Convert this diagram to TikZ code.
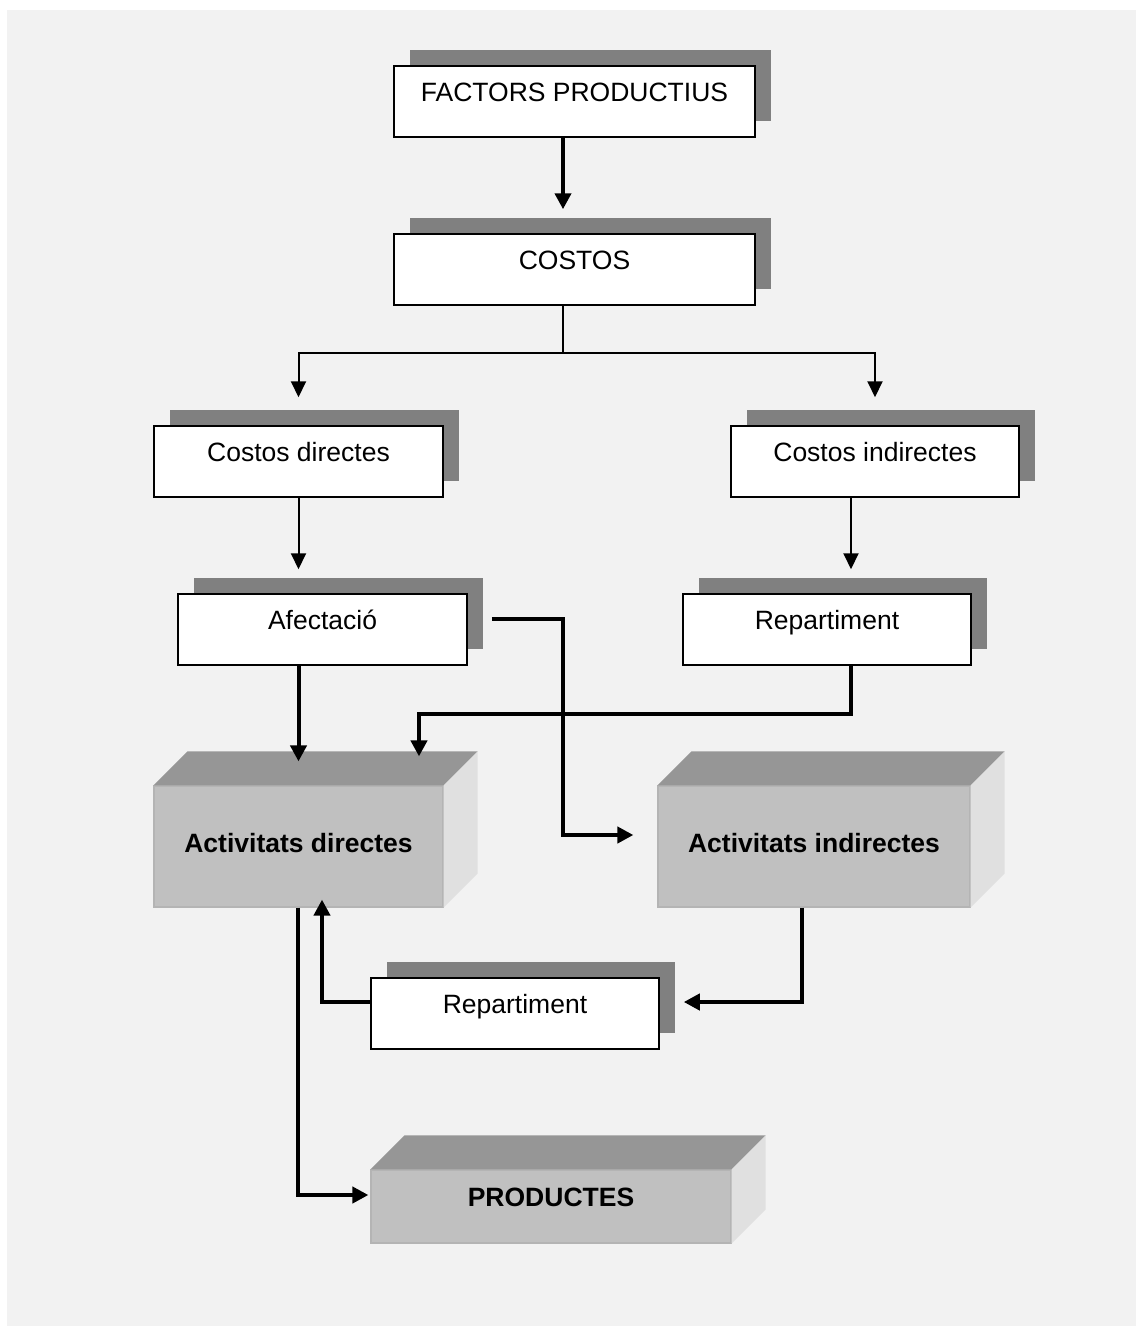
\documentclass[tikz,border=0pt]{standalone}
\usepackage{fontspec}
\setmainfont{Liberation Sans}
\usetikzlibrary{arrows.meta,shadows}

\definecolor{bggray}{HTML}{F2F2F2}
\definecolor{shadowgray}{HTML}{808080}
\definecolor{topgray}{HTML}{969696}
\definecolor{frontgray}{HTML}{C0C0C0}
\definecolor{sidegray}{HTML}{E0E0E0}
\definecolor{edgegray}{HTML}{B4B4B4}

\newcommand\diagfont{\fontsize{26.5}{30}\selectfont}

\tikzset{
  flatbox/.style={draw=black, line width=1.5pt, fill=white,
    minimum height=71pt, inner sep=0pt,
    text height=19pt, text depth=19pt, font=\diagfont,
    general shadow={fill=shadowgray, shadow xshift=16pt, shadow yshift=16pt}},
  blockfront/.style={draw=edgegray, line width=1.2pt, fill=frontgray,
    inner sep=0pt, text height=19pt, text depth=7pt,
    font=\diagfont\bfseries},
  blocktop/.style={fill=topgray},
  blockside/.style={fill=sidegray},
  thinflow/.style={line width=2pt, -{Triangle[width=15pt,length=16pt]}},
  thickflow/.style={line width=4pt, -{Triangle[width=16pt,length=16pt]}},
  thinline/.style={line width=2pt},
}

% top and side faces of a block, 34pt deep
\newcommand\blockfaces[1]{%
  \fill[blocktop] (#1.north west) -- ++(34,-34) -- ([shift={(34,-34)}]#1.north east) -- (#1.north east) -- cycle;
  \fill[blockside] (#1.north east) -- ++(34,-34) -- ([shift={(34,-34)}]#1.south east) -- (#1.south east) -- cycle;
}

\begin{document}
\begin{tikzpicture}[x=1pt,y=-1pt]
  % page and panel
  \fill[white] (0,0) rectangle (1136,1326);
  \fill[bggray] (7,10) rectangle (1136,1326);

  % flat boxes with offset shadows
  \node[flatbox, minimum width=361pt] (fp)  at (574.5,101.5) {FACTORS PRODUCTIUS};
  \node[flatbox, minimum width=361pt] (co)  at (574.5,269.5) {COSTOS};
  \node[flatbox, minimum width=289pt] (cd)  at (298.5,461.5) {Costos directes};
  \node[flatbox, minimum width=288pt] (ci)  at (875,461.5)   {Costos indirectes};
  \node[flatbox, minimum width=289pt] (af)  at (322.5,629.5) {Afectació};
  \node[flatbox, minimum width=288pt] (rp1) at (827,629.5)   {Repartiment};
  \node[flatbox, minimum width=288pt] (rp2) at (515,1013.5)  {Repartiment};

  % three-dimensional blocks
  \node[blockfront, minimum width=289pt, minimum height=121pt] (ad) at (298.5,846.5) {Activitats directes};
  \blockfaces{ad}
  \node[blockfront, minimum width=312pt, minimum height=121pt] (ai) at (814,846.5) {Activitats indirectes};
  \blockfaces{ai}
  \node[blockfront, minimum width=360pt, minimum height=73pt, text depth=19pt] (pr) at (551,1206.5) {PRODUCTES};
  \blockfaces{pr}

  % routing points
  \coordinate (mx) at (563,0);
  \coordinate (split) at (563,353);
  \coordinate (rx) at (851,0);
  \coordinate (rjoin) at (419,714);
  \coordinate (abend) at (563,835);
  \coordinate (ibend) at (802,1002);
  \coordinate (lbend) at (322,1002);
  \coordinate (pbend) at (298,1195);

  % connectors
  \draw[thickflow, shorten >=24pt] (fp.south -| mx) -- (co.north -| mx);
  \draw[thinline] (co.south -| split) -- (split);
  \draw[thinflow, shorten >=28pt] (split) -| (cd.north);
  \draw[thinflow, shorten >=28pt] (split) -| (ci.north);
  \draw[thinflow, shorten >=24pt] (cd.south) -- (cd.south |- af.north);
  \draw[thinflow, shorten >=24pt] (ci.south -| rx) -- (rp1.north -| rx);
  \draw[thickflow, shorten >=24pt] (ad.north |- af.south) -- (ad.north);
  \draw[thickflow, shorten >=29pt] (rp1.south -| rx) |- (rjoin) -- (rjoin |- ad.north);
  \draw[thickflow, shorten <=24pt, shorten >=24pt] ([yshift=10.5pt]af.east) -| (abend) -- (abend -| ai.west);
  \draw[thickflow, shorten >=24pt] (ai.south -| ibend) -- (ibend) -- (ibend -| rp2.east);
  \draw[thickflow, shorten >=-8pt] (lbend -| rp2.west) -- (lbend) -- (lbend |- ad.south);
  \draw[thickflow, shorten >=2pt] (ad.south -| pbend) -- (pbend) -- (pbend -| pr.west);
\end{tikzpicture}
\end{document}
